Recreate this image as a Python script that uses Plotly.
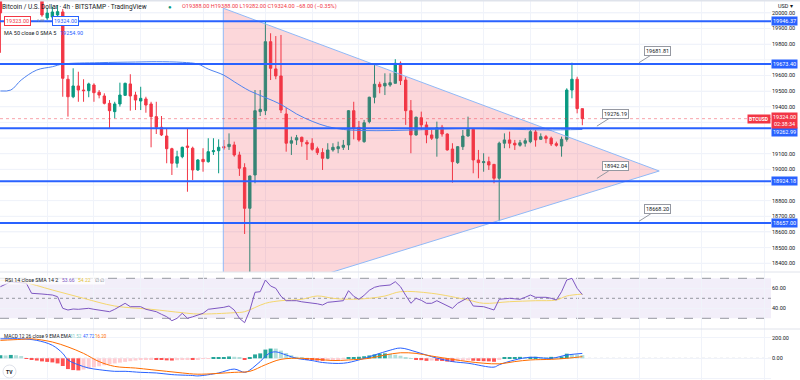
import plotly.graph_objects as go

# ---------------- data ----------------
opens = [20180, 20100, 20210, 20260, 20200, 20150, 20220, 20170, 20130, 19968,
         19974, 19987, 20006, 19576, 19464, 19533, 19507, 19503, 19539, 19493,
         19469, 19422, 19369, 19418, 19473, 19546, 19475, 19437, 19450, 19418,
         19337, 19269, 19213, 19132, 19039, 19081, 19149, 19135, 18996, 19064,
         19049, 19113, 19119, 19145, 19145, 19156, 19092, 19011, 18751, 18964,
         19369, 19375, 19816, 19642, 19597, 19354, 19167, 19188, 19205, 19173,
         19167, 19132, 19107, 19071, 19124, 19132, 19141, 19156, 19375, 19269,
         19177, 19305, 19461, 19544, 19533, 19539, 19550, 19678, 19571, 19375,
         19220, 19330, 19284, 19220, 19199, 19269, 19226, 19130, 19043, 19145,
         19213, 19256, 19060, 19043, 19049, 19032, 18943, 19167, 19188, 19167,
         19154, 19167, 19177, 19239, 19192, 19209, 19199, 19164, 19149, 19192,
         19507, 19576, 19388]
highs = [20230, 20250, 20300, 20320, 20270, 20240, 20260, 20200, 20160, 20031,
         20040, 20050, 20025, 19603, 19646, 19624, 19576, 19554, 19550, 19507,
         19486, 19443, 19432, 19554, 19554, 19608, 19496, 19528, 19464, 19432,
         19432, 19341, 19262, 19138, 19119, 19145, 19262, 19145, 19065, 19135,
         19199, 19199, 19192, 19188, 19230, 19177, 19113, 19039, 18960, 19507,
         19507, 19944, 19870, 19852, 19859, 19392, 19209, 19220, 19209, 19188,
         19199, 19145, 19135, 19167, 19167, 19177, 19188, 19379, 19432, 19309,
         19316, 19464, 19678, 19560, 19614, 19614, 19704, 19690, 19592, 19443,
         19337, 19369, 19305, 19252, 19305, 19284, 19230, 19167, 19149, 19252,
         19337, 19262, 19124, 19103, 19081, 19034, 19177, 19230, 19241, 19188,
         19188, 19199, 19252, 19252, 19230, 19220, 19209, 19177, 19209, 19518,
         19681.81, 19592, 19388]
lows = [19745, 20090, 20160, 20180, 20120, 20110, 20140, 20095, 19975, 19955,
        19960, 19975, 19464, 19337, 19455, 19432, 19432, 19461, 19432, 19454,
        19415, 19262, 19326, 19401, 19469, 19375, 19379, 19379, 19362, 19141,
        19226, 19213, 19039, 18964, 19011, 19071, 18857, 18932, 18990, 18985,
        19043, 19092, 18975, 19124, 19124, 19081, 18958, 18587, 18170, 18911,
        19341, 19347, 19571, 19576, 19360, 19113, 19092, 19156, 19145, 19060,
        19119, 19092, 18996, 19065, 19113, 19103, 19124, 19124, 19192, 19177,
        19170, 19294, 19422, 19486, 19475, 19528, 19550, 19539, 19284, 19103,
        19215, 19252, 19167, 19188, 19081, 19209, 19120, 18915, 19035, 19124,
        19209, 18975, 18943, 18985, 18996, 18911, 18668.2, 19135, 19135, 19124,
        19145, 19145, 19167, 19145, 19188, 19167, 19149, 19145, 19081, 19177,
        19454, 19358, 19282]
closes = [20000, 20210, 20260, 20200, 20150, 20220, 20170, 20130, 19987, 19999,
          20006, 20008, 19582, 19464, 19533, 19507, 19503, 19546, 19490, 19475,
          19422, 19375, 19418, 19475, 19550, 19469, 19443, 19454, 19411, 19337,
          19269, 19220, 19132, 19039, 19081, 19141, 19141, 18996, 19060, 19049,
          19113, 19119, 19141, 19138, 19160, 19092, 19007, 18751, 18958, 19375,
          19384, 19816, 19646, 19597, 19379, 19167, 19183, 19202, 19177, 19162,
          19128, 19107, 19071, 19124, 19141, 19145, 19154, 19375, 19262, 19188,
          19298, 19461, 19544, 19528, 19550, 19554, 19678, 19567, 19375, 19220,
          19333, 19284, 19220, 19199, 19266, 19226, 19124, 19049, 19145, 19213,
          19256, 19060, 19043, 19049, 19028, 18943, 19167, 19188, 19167, 19156,
          19170, 19183, 19241, 19188, 19209, 19196, 19162, 19154, 19192, 19507,
          19576, 19388, 19324]

# MA 50 (sampled by bar index)
ma_idx = [0, 2, 4, 7, 10, 12, 19, 26, 30, 35, 38, 40, 43, 45, 48, 51, 54, 57, 60, 63,
          66, 70, 75, 80, 85, 90, 95, 100, 105, 112]
ma_vals = [19501, 19507, 19571, 19635, 19656, 19673, 19682, 19686, 19688, 19684,
           19673, 19641, 19602, 19560, 19501, 19459, 19415, 19354, 19307, 19273,
           19255, 19248, 19248, 19252, 19258, 19261, 19258, 19255, 19252, 19255]

# RSI 14 (one value per bar) and its SMA (sampled)
rsi = [61.6, 64, 66.6, 66, 65.6, 65, 55, 55, 54.3, 53.8, 53.3, 51.6, 40, 38.3, 39.3,
       39, 39.5, 40, 39, 38.3, 37.5, 36.6, 39, 42, 45, 41.6, 41.6, 41.6, 39, 37.5,
       36.6, 34, 31.6, 27.6, 30, 35, 30, 31.5, 33.3, 35, 39, 39.5, 40, 41, 42.3,
       38.3, 30, 25.6, 38, 56, 56.6, 68.3, 62.3, 60, 52, 47.6, 47.6, 47.6, 46.5, 46,
       45.6, 44.5, 43.3, 46, 46.5, 47, 47.6, 57.6, 52, 49, 53, 58, 61, 62.3, 62.8,
       63.3, 66.6, 61.6, 53, 45, 50, 48, 45, 45, 47.6, 45, 42, 40, 45, 48,
       50.6, 42.3, 42, 41.6, 40, 38.3, 49, 49.5, 50, 49.5, 49, 51, 53.3, 51, 51,
       51, 50, 48.3, 56.6, 68.3, 70, 60, 53.66]
rsi_sma_idx = [0, 4, 10, 16, 22, 29, 35, 38, 45, 47, 51, 54, 58, 61, 64, 67, 71, 74,
               77, 83, 90, 93, 98, 103, 107, 109, 112]
rsi_sma = [68, 66.6, 58.3, 50, 42.3, 39, 35.6, 34.3, 35.6, 36.6, 45, 47.6, 49, 52.3,
           50, 49, 50, 52.3, 56.6, 55, 48.3, 45, 46.6, 47.6, 48.3, 52.3, 54.22]

# MACD 12 26 9
macd_idx = [0, 4, 7, 10, 12, 13, 15, 17, 19, 22, 24, 27, 30, 33, 37, 38, 42, 45, 47, 48,
            49, 50, 51, 52, 53, 55, 57, 60, 62, 66, 69, 72, 75, 77, 80, 83, 87, 90, 95, 96,
            99, 102, 106, 109, 112]
macd_line = [190, 190, 175, 127, 48, -16, -63, -95, -111, -127, -127, -137, -143, -159,
             -168, -172, -143, -105, -137, -115, -75, -32, 20, 55, 63, 32, 0, -22, -41,
             -48, -16, 32, 79, 100, 63, 16, -32, -48, -86, -63, -16, 10, 0, 32, 47.72]
signal_idx = [0, 4, 6, 10, 13, 16, 19, 22, 26, 29, 32, 35, 38, 45, 48, 51, 54, 58, 61, 64,
              67, 71, 74, 77, 80, 83, 87, 90, 93, 96, 99, 102, 106, 109, 112]
signal_line = [175, 185, 190, 159, 111, 48, -32, -79, -95, -111, -127, -143, -155, -137,
               -127, -63, -10, 0, -10, -22, -16, 0, 32, 54, 48, 22, -10, -32, -48, -54,
               -32, -16, -10, 0, 16.2]
macd_hist = [30, 28, 33, 30, 22, -4, -15, -22, -30, -35, -40, -50, -75, -105, -115, -118,
             -110, -100, -88, -78, -68, -58, -50, -42, -35, -28, -22, -16, -10, -8, -12,
             -15, -20, -22, -18, -12, -10, -14, -8, -6, -2, 8, 10, 12, 18, 15, 10, -8, 5,
             38, 48, 85, 95, 95, 75, 52, 30, 15, 8, -8, -12, -22, -25, -18, -12, -8, -5,
             8, 10, 15, 20, 28, 38, 45, 48, 42, 35, 25, 12, 2, -8, -18, -25, -22, -24,
             -26, -32, -35, -28, -22, -20, -24, -26, -28, -30, -34, -12, 5, 10, 12, 14,
             10, 14, 15, 12, 10, 14, 12, 18, 45, 42, 36, 31.52]

# drawings
levels = [19946.37, 19673.40, 19262.99, 18924.18, 18657.00]
tri_x = [42.9, 126.8, 42.9, 42.9]
tri_y = [20030, 18989.5, 18128, 20030]
callout_x = [122.9, 114.8, 114.8, 122.9]
callout_vals = [19681.81, 19276.19, 18942.04, 18668.20]
last_price = 19324.00
time_ticks = [9, 18, 27, 39, 51, 60, 69, 81, 93, 102, 111, 123, 135, 147]
price_ticks = [18400, 18500, 18600, 18700, 18800, 19000, 19100, 19400, 19500, 19600,
               19800, 19900, 20000]
grid_prices = list(range(18400, 20001, 100))
rsi_ticks = [40, 60]
macd_ticks = [-200, 0, 200]

# ---------------- layout helpers ----------------
W, H = 800, 380
MR = 29
PW = W - MR


def px(x):
    return x / PW


def py(y):
    return 1 - y / H


X_RANGE = [-0.08, 148.31]
GRID = '#f0f3fa'
TXT = '#131722'
FONT = 'Roboto'
GREEN, RED, BLUE = '#089981', '#f23645', '#2962ff'

fig = go.Figure()
bars = list(range(len(opens)))

fig.add_trace(go.Scatter(x=tri_x, y=tri_y, mode='lines', fill='toself',
                         fillcolor='rgba(242,54,69,0.2)',
                         line=dict(color='#90b9f7', width=1), hoverinfo='skip',
                         xaxis='x', yaxis='y'))
fig.add_trace(go.Scatter(x=ma_idx, y=ma_vals, mode='lines', line_shape='spline',
                         line=dict(color='#4f83f0', width=1), hoverinfo='skip',
                         xaxis='x', yaxis='y'))
fig.add_trace(go.Candlestick(x=bars, open=opens, high=highs, low=lows, close=closes,
                             increasing=dict(line=dict(color=GREEN, width=1), fillcolor=GREEN),
                             decreasing=dict(line=dict(color=RED, width=1), fillcolor=RED),
                             whiskerwidth=0, hoverinfo='skip', xaxis='x', yaxis='y'))

# RSI
fig.add_trace(go.Scatter(x=rsi_sma_idx, y=rsi_sma, mode='lines', line_shape='spline',
                         line=dict(color='#f5d76e', width=1), xaxis='x2', yaxis='y2',
                         hoverinfo='skip'))
fig.add_trace(go.Scatter(x=bars, y=rsi, mode='lines', line=dict(color='#7e57c2', width=1),
                         xaxis='x2', yaxis='y2', hoverinfo='skip'))

# MACD
hist_colors = []
prev = None
for h in macd_hist:
    if h >= 0:
        c = '#26a69a' if (prev is None or h > prev) else '#b2dfdb'
    else:
        c = '#ff5252' if (prev is None or h < prev) else '#ffcdd2'
    hist_colors.append(c)
    prev = h
fig.add_trace(go.Bar(x=bars, y=macd_hist, marker=dict(color=hist_colors, line_width=0),
                     width=0.75, xaxis='x3', yaxis='y3', hoverinfo='skip'))
fig.add_trace(go.Scatter(x=macd_idx, y=macd_line, mode='lines', line_shape='spline',
                         line=dict(color=BLUE, width=1), xaxis='x3', yaxis='y3',
                         hoverinfo='skip'))
fig.add_trace(go.Scatter(x=signal_idx, y=signal_line, mode='lines', line_shape='spline',
                         line=dict(color='#ff6d00', width=1), xaxis='x3', yaxis='y3',
                         hoverinfo='skip'))

xcommon = dict(range=X_RANGE, showticklabels=False, tickvals=time_ticks, showgrid=True,
               gridcolor=GRID, gridwidth=1, zeroline=False, showline=False, ticks='',
               fixedrange=True)
ycommon = dict(side='right', showgrid=True, gridcolor=GRID, zeroline=False, showline=False,
               ticks='', tickfont=dict(size=5.5, color=TXT, family=FONT), fixedrange=True)

shapes = []
annotations = []

# price grid lines (including those whose labels are hidden)
for gp in grid_prices:
    shapes.append(dict(type='line', xref='paper', yref='y', x0=0, x1=1, y0=gp, y1=gp,
                       line=dict(color=GRID, width=1), layer='below'))

# pane separators and top border
for yy in (272, 329):
    shapes.append(dict(type='line', xref='paper', yref='paper', x0=0, x1=px(W),
                       y0=py(yy), y1=py(yy), line=dict(color='#e0e3eb', width=1)))
shapes.append(dict(type='rect', xref='paper', yref='paper', x0=0, x1=px(W), y0=py(1.6),
                   y1=1, fillcolor='#dfe3eb', line_width=0))

# RSI band and levels
shapes.append(dict(type='rect', xref='paper', yref='y2', x0=0, x1=1, y0=30, y1=70,
                   fillcolor='rgba(126,87,194,0.1)', line_width=0, layer='below'))
for lv, dash in ((70, 'dash'), (50, 'dot'), (30, 'dash')):
    shapes.append(dict(type='line', xref='paper', yref='y2', x0=0, x1=1, y0=lv, y1=lv,
                       line=dict(color='#9598a1', width=1, dash=dash), layer='below'))
shapes.append(dict(type='line', xref='paper', yref='y3', x0=0, x1=1, y0=0, y1=0,
                   line=dict(color='#c8cad0', width=1, dash='dot'), layer='below'))

# current price dotted line
shapes.append(dict(type='line', xref='paper', yref='y', x0=0, x1=1, y0=last_price,
                   y1=last_price, line=dict(color='rgba(242,54,69,0.45)', width=1, dash='dot')))

# horizontal levels
for lv in levels:
    shapes.append(dict(type='line', xref='paper', yref='y', x0=0, x1=1, y0=lv, y1=lv,
                       line=dict(color=BLUE, width=2)))
    annotations.append(dict(xref='paper', yref='y', x=1.0, y=lv, xanchor='left',
                            yanchor='middle', text=f'{lv:.2f}', showarrow=False,
                            bgcolor=BLUE, font=dict(color='white', size=5.5, family=FONT),
                            borderpad=1, yshift=-4 if lv == 19262.99 else 0))

# current price labels
annotations.append(dict(xref='paper', yref='y', x=1.0, y=last_price, xanchor='left',
                        yanchor='middle', text=f'{last_price:.2f}<br>02:38:34',
                        showarrow=False, bgcolor=RED, yshift=-2,
                        font=dict(color='white', size=5.5, family=FONT), borderpad=1))
annotations.append(dict(xref='paper', yref='y', x=1.0, y=last_price, xanchor='right',
                        yanchor='middle', text='<b>BTCUSD</b>', showarrow=False,
                        bgcolor=RED, font=dict(color='white', size=5, family=FONT),
                        borderpad=1))

# callouts
for cx, cv in zip(callout_x, callout_vals):
    annotations.append(dict(xref='x', yref='y', x=cx, y=cv, text=f'{cv:.2f}',
                            showarrow=True, arrowhead=0, arrowwidth=1,
                            arrowcolor='#9598a1', ax=19, ay=-12, bgcolor='white',
                            bordercolor='#9598a1', borderwidth=1, borderpad=1,
                            font=dict(size=5.5, color=TXT, family=FONT)))


def txt(x, y, s, color=TXT, size=6, anchor='left', **kw):
    d = dict(xref='paper', yref='paper', x=px(x), y=py(y), xanchor=anchor,
             yanchor='middle', text=s, showarrow=False,
             font=dict(size=size, color=color, family=FONT))
    d.update(kw)
    annotations.append(d)


# header texts
txt(0, 7, 'Bitcoin / U.S. Dollar · 4h · BITSTAMP · TradingView', size=6.5)
txt(170, 7, '●', color=GREEN, size=6, anchor='center')
txt(180, 7, 'O19388.00 H19388.00 L19282.00 C19324.00 −68.00 (−0.35%)', color=RED,
    size=5.6)
txt(17.5, 21, '19323.00', color=RED, size=5.5, anchor='center', bgcolor='white',
    bordercolor=RED, borderwidth=1, borderpad=1)
txt(40.5, 21, '1.00', color='#787b86', size=3.8, anchor='center')
txt(65, 21, '19324.00', color=BLUE, size=5.5, anchor='center', bgcolor='white',
    bordercolor=BLUE, borderwidth=1, borderpad=1)
txt(2, 33, 'MA 50 close 0 SMA 5', size=5.5)
txt(58, 33, '19254.90', color=BLUE, size=5.5)
txt(785, 6, 'USD ▾', size=5.5, anchor='center')

# RSI legend
shapes.append(dict(type='rect', xref='paper', yref='paper', x0=0, x1=px(105),
                   y0=py(284.5), y1=py(275.5), fillcolor='rgba(255,255,255,0.75)',
                   line_width=0))
txt(3, 280, 'RSI 14 close SMA 14 2', size=5.3)
txt(60, 280, '53.66', color='#7e57c2', size=5)
txt(76, 280, '54.22', color='#e2c23a', size=5)
txt(93, 280, '∅ ∅', color='#787b86', size=4.8)

# MACD legend
txt(2, 336, 'MACD 12 26 close 9 EMA EMA', size=4.9)
txt(68, 336, '31.52', color='#80cbc4', size=4.5)
txt(80.5, 336, '47.72', color=BLUE, size=4.5)
txt(93, 336, '16.20', color='#ff6d00', size=4.5)

# logo
shapes.append(dict(type='circle', xref='paper', yref='paper', x0=px(3), x1=px(16),
                   y0=py(378), y1=py(365), fillcolor='white',
                   line=dict(color='#e0e3eb', width=1)))
txt(9.5, 371.5, '<b>TV</b>', size=5, anchor='center')

fig.update_layout(
    width=W, height=H, margin=dict(l=0, r=MR, t=0, b=0, autoexpand=False),
    paper_bgcolor='white', plot_bgcolor='white', showlegend=False, hovermode=False,
    font=dict(family=FONT), boxgap=0.35,
    xaxis=dict(**xcommon, domain=[0, 1], anchor='y', rangeslider=dict(visible=False)),
    xaxis2=dict(**xcommon, domain=[0, 1], anchor='y2'),
    xaxis3=dict(**xcommon, domain=[0, 1], anchor='y3'),
    yaxis=dict(**ycommon, domain=[1 - 272 / H, 1], range=[18343.9, 20082.5], anchor='x',
               tickvals=price_ticks, ticktext=[f'{v:.2f}' for v in price_ticks]),
    yaxis2=dict(**ycommon, domain=[1 - 329 / H, 1 - 272 / H], range=[19.3, 76.3],
                anchor='x2', tickvals=rsi_ticks, ticktext=[f'{v:.2f}' for v in rsi_ticks]),
    yaxis3=dict(**ycommon, domain=[0, 1 - 329 / H], range=[-211.7, 286], anchor='x3',
                tickvals=macd_ticks, ticktext=[f'{v:.2f}' for v in macd_ticks]),
    shapes=shapes, annotations=annotations,
)

fig.write_html('out.html', config={'displayModeBar': False},
               post_script="document.body.style.margin='0px';document.body.style.padding='0px';")
